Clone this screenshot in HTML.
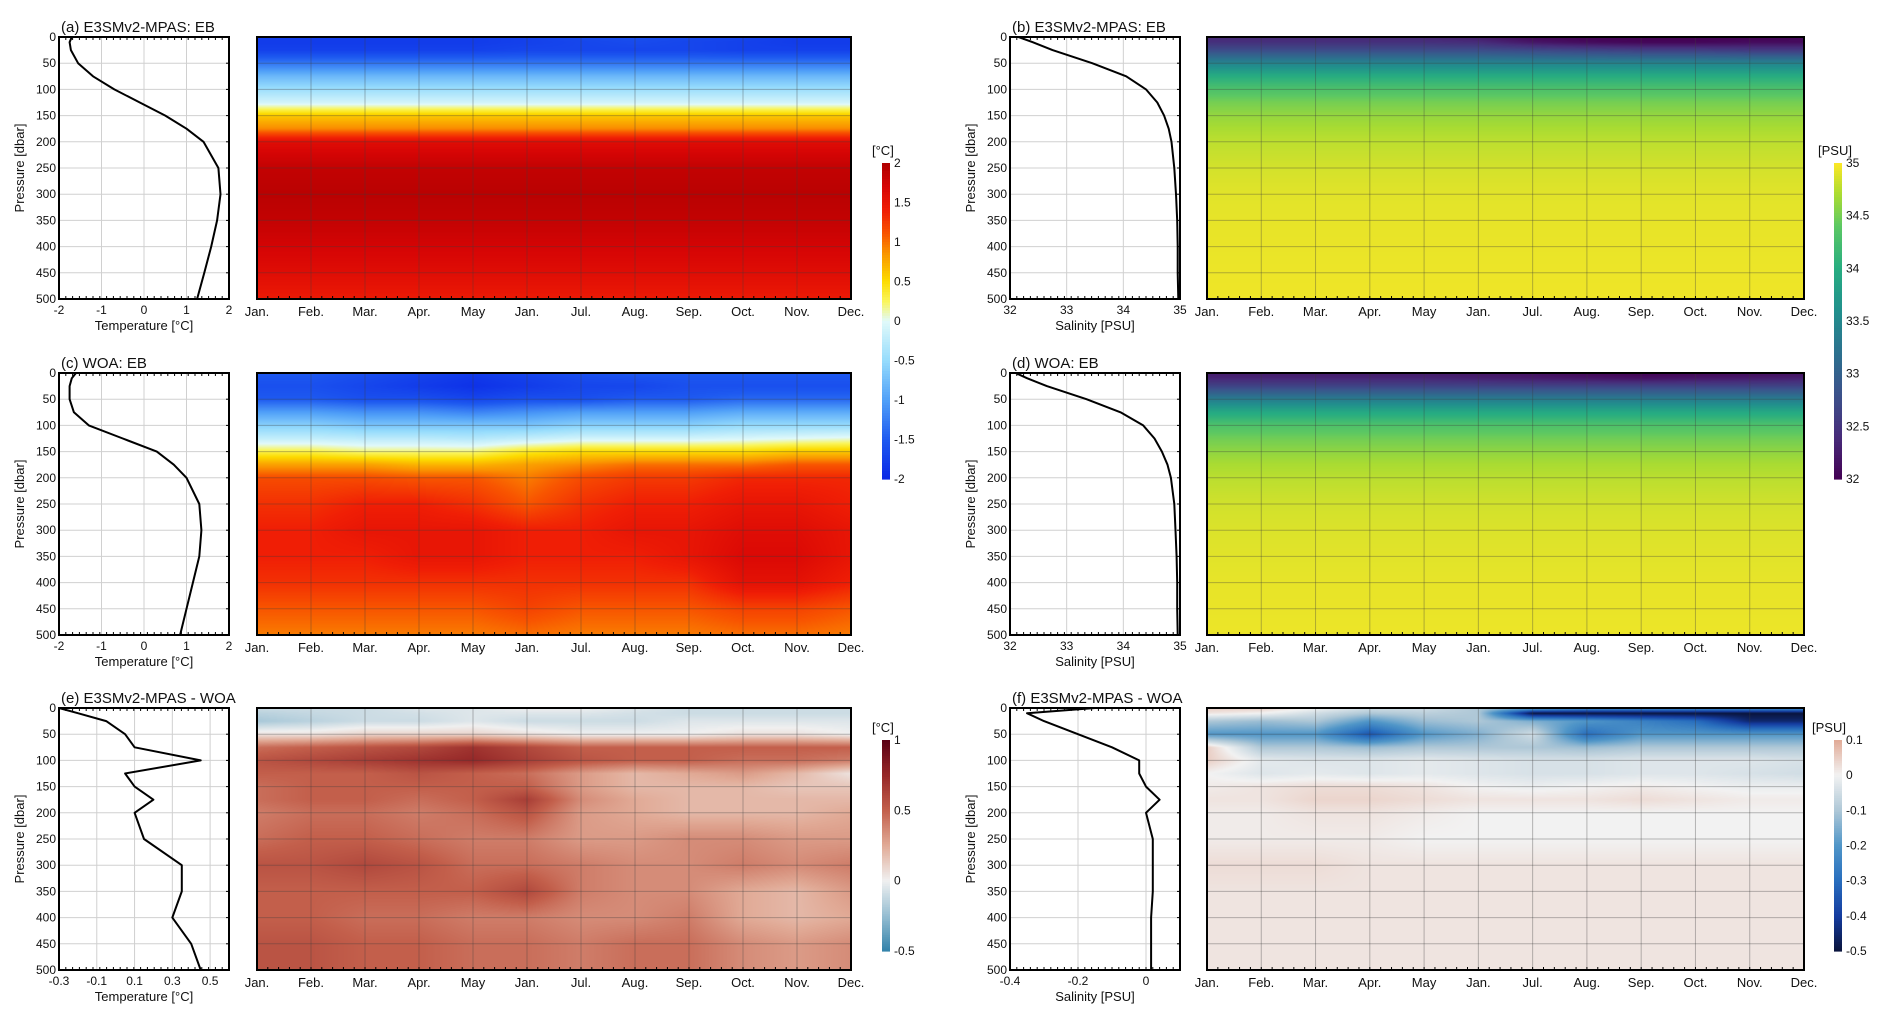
<!DOCTYPE html>
<html><head><meta charset="utf-8">
<style>
body{margin:0;background:#fff;width:1892px;height:1028px;overflow:hidden;position:relative;font-family:"Liberation Sans",Arial,sans-serif}
canvas{position:absolute}
svg{position:absolute;left:0;top:0}
text{font-family:"Liberation Sans",Arial,sans-serif;fill:#111}
</style></head>
<body>
<div id="hm"></div>
<svg id="sv" width="1892" height="1028"></svg>
<script>
// ---- data ----
const depths=[0,10,25,50,75,100,125,150,175,200,250,300,350,400,450,500];
const months=["Jan.","Feb.","Mar.","Apr.","May","Jan.","Jul.","Aug.","Sep.","Oct.","Nov.","Dec."];
const profA=[-1.7,-1.75,-1.72,-1.55,-1.2,-0.7,-0.1,0.5,1.0,1.4,1.75,1.8,1.72,1.58,1.42,1.25];
const profB=[32.15,32.4,32.75,33.45,34.05,34.4,34.6,34.72,34.8,34.85,34.9,34.93,34.95,34.96,34.96,34.97];
const profC=[-1.6,-1.7,-1.75,-1.75,-1.65,-1.3,-0.5,0.3,0.7,1.0,1.3,1.35,1.3,1.15,1.0,0.85];
const profD=[32.1,32.3,32.65,33.35,33.95,34.35,34.55,34.68,34.78,34.84,34.9,34.92,34.94,34.95,34.95,34.96];
const profE=[-0.3,-0.2,-0.05,0.05,0.1,0.45,0.05,0.1,0.2,0.1,0.15,0.35,0.35,0.3,0.4,0.45];
const profF=[-0.15,-0.35,-0.3,-0.2,-0.1,-0.02,-0.02,0.0,0.04,0.0,0.02,0.02,0.02,0.015,0.015,0.015];
const heatA=[
[-1.8,-1.8,-1.8,-1.8,-1.8,-1.75,-1.65,-1.6,-1.65,-1.7,-1.8,-1.8],
[-1.8,-1.8,-1.8,-1.8,-1.8,-1.75,-1.7,-1.65,-1.7,-1.75,-1.8,-1.8],
[-1.75,-1.75,-1.75,-1.75,-1.75,-1.7,-1.7,-1.7,-1.7,-1.75,-1.75,-1.75],
[-1.3,-1.3,-1.3,-1.3,-1.3,-1.3,-1.3,-1.3,-1.3,-1.3,-1.3,-1.3],
[-0.8,-0.8,-0.8,-0.8,-0.8,-0.8,-0.8,-0.8,-0.8,-0.8,-0.8,-0.8],
[-0.45,-0.45,-0.45,-0.45,-0.45,-0.45,-0.45,-0.45,-0.45,-0.45,-0.45,-0.45],
[-0.1,-0.1,-0.1,-0.1,-0.1,-0.1,-0.1,-0.1,-0.1,-0.1,-0.1,-0.1],
[0.6,0.6,0.6,0.6,0.6,0.6,0.6,0.6,0.6,0.6,0.6,0.6],
[0.9,0.9,0.9,0.9,0.9,0.9,0.9,0.9,0.9,0.9,0.9,0.9],
[1.6,1.6,1.6,1.6,1.6,1.6,1.6,1.6,1.6,1.6,1.6,1.6],
[1.85,1.85,1.85,1.85,1.85,1.85,1.85,1.85,1.85,1.85,1.85,1.85],
[1.92,1.92,1.92,1.92,1.92,1.92,1.92,1.92,1.92,1.92,1.92,1.92],
[1.85,1.85,1.85,1.85,1.85,1.85,1.85,1.85,1.85,1.85,1.85,1.85],
[1.72,1.72,1.72,1.72,1.72,1.72,1.72,1.72,1.72,1.72,1.72,1.72],
[1.6,1.6,1.6,1.6,1.6,1.6,1.6,1.6,1.6,1.6,1.6,1.6],
[1.45,1.45,1.45,1.45,1.45,1.45,1.45,1.45,1.45,1.45,1.45,1.45]];
const heatB=[
[32.35,32.35,32.35,32.35,32.35,32.25,32.05,32.0,32.0,32.0,32.0,32.05],
[32.45,32.45,32.45,32.45,32.45,32.4,32.2,32.1,32.05,32.05,32.1,32.1],
[32.75,32.75,32.75,32.75,32.75,32.75,32.7,32.65,32.6,32.6,32.55,32.55],
[33.45,33.45,33.45,33.45,33.45,33.45,33.45,33.45,33.45,33.45,33.45,33.45],
[34.0,34.0,34.0,34.0,34.0,34.0,34.0,34.0,34.0,34.0,34.0,34.0],
[34.3,34.3,34.3,34.3,34.3,34.3,34.3,34.3,34.3,34.3,34.3,34.3],
[34.5,34.5,34.5,34.5,34.5,34.5,34.5,34.5,34.5,34.5,34.5,34.5],
[34.62,34.62,34.62,34.62,34.62,34.62,34.62,34.62,34.62,34.62,34.62,34.62],
[34.7,34.7,34.7,34.7,34.7,34.7,34.7,34.7,34.7,34.7,34.7,34.7],
[34.77,34.77,34.77,34.77,34.77,34.77,34.77,34.77,34.77,34.77,34.77,34.77],
[34.85,34.85,34.85,34.85,34.85,34.85,34.85,34.85,34.85,34.85,34.85,34.85],
[34.9,34.9,34.9,34.9,34.9,34.9,34.9,34.9,34.9,34.9,34.9,34.9],
[34.92,34.92,34.92,34.92,34.92,34.92,34.92,34.92,34.92,34.92,34.92,34.92],
[34.93,34.93,34.93,34.93,34.93,34.93,34.93,34.93,34.93,34.93,34.93,34.93],
[34.94,34.94,34.94,34.94,34.94,34.94,34.94,34.94,34.94,34.94,34.94,34.94],
[34.95,34.95,34.95,34.95,34.95,34.95,34.95,34.95,34.95,34.95,34.95,34.95]];
const heatC=[
[-1.5,-1.5,-1.6,-1.7,-1.8,-1.7,-1.6,-1.5,-1.5,-1.5,-1.5,-1.5],
[-1.55,-1.55,-1.65,-1.75,-1.85,-1.75,-1.65,-1.6,-1.55,-1.55,-1.55,-1.55],
[-1.6,-1.6,-1.7,-1.8,-1.9,-1.8,-1.7,-1.7,-1.6,-1.6,-1.6,-1.6],
[-1.5,-1.5,-1.6,-1.6,-1.7,-1.6,-1.6,-1.5,-1.5,-1.4,-1.4,-1.4],
[-1.0,-1.0,-1.1,-1.1,-1.2,-1.1,-1.0,-1.0,-1.0,-0.9,-0.9,-0.9],
[-0.6,-0.6,-0.7,-0.7,-0.7,-0.7,-0.6,-0.6,-0.6,-0.5,-0.5,-0.5],
[-0.2,-0.2,-0.25,-0.25,-0.3,-0.2,-0.1,-0.1,-0.1,-0.05,0.0,0.05],
[0.3,0.3,0.2,0.2,0.2,0.4,0.5,0.5,0.5,0.5,0.6,0.6],
[0.8,0.8,0.8,0.7,0.7,0.8,0.9,1.0,1.0,1.0,1.1,1.1],
[1.15,1.15,1.15,1.1,1.1,0.95,1.15,1.25,1.25,1.35,1.35,1.35],
[1.3,1.3,1.4,1.4,1.3,1.1,1.3,1.4,1.4,1.5,1.5,1.4],
[1.4,1.4,1.5,1.5,1.5,1.4,1.4,1.5,1.5,1.6,1.6,1.5],
[1.4,1.4,1.4,1.5,1.5,1.4,1.4,1.4,1.5,1.65,1.65,1.5],
[1.3,1.3,1.3,1.3,1.3,1.3,1.3,1.3,1.3,1.55,1.55,1.4],
[1.1,1.1,1.1,1.1,1.1,1.2,1.1,1.1,1.1,1.2,1.2,1.1],
[0.95,0.95,0.95,0.95,0.95,1.0,0.95,0.95,0.95,1.0,1.0,0.95]];
const heatD=[
[32.25,32.25,32.25,32.25,32.25,32.2,32.15,32.05,32.0,32.05,32.1,32.15],
[32.35,32.35,32.35,32.35,32.35,32.3,32.25,32.2,32.15,32.2,32.25,32.3],
[32.65,32.65,32.65,32.65,32.65,32.65,32.65,32.65,32.65,32.65,32.65,32.65],
[33.35,33.35,33.35,33.35,33.35,33.35,33.35,33.35,33.35,33.35,33.35,33.35],
[33.95,33.95,33.95,33.95,33.95,33.95,33.95,33.95,33.95,33.95,33.95,33.95],
[34.3,34.3,34.3,34.3,34.3,34.3,34.3,34.3,34.3,34.3,34.3,34.3],
[34.48,34.48,34.48,34.48,34.48,34.48,34.48,34.48,34.48,34.48,34.48,34.48],
[34.6,34.6,34.6,34.6,34.6,34.6,34.6,34.6,34.6,34.6,34.6,34.6],
[34.7,34.7,34.7,34.7,34.7,34.7,34.7,34.7,34.7,34.7,34.7,34.7],
[34.76,34.76,34.76,34.76,34.76,34.76,34.76,34.76,34.76,34.76,34.76,34.76],
[34.84,34.84,34.84,34.84,34.84,34.84,34.84,34.84,34.84,34.84,34.84,34.84],
[34.88,34.88,34.88,34.88,34.88,34.88,34.88,34.88,34.88,34.88,34.88,34.88],
[34.9,34.9,34.9,34.9,34.9,34.9,34.9,34.9,34.9,34.9,34.9,34.9],
[34.92,34.92,34.92,34.92,34.92,34.92,34.92,34.92,34.92,34.92,34.92,34.92],
[34.93,34.93,34.93,34.93,34.93,34.93,34.93,34.93,34.93,34.93,34.93,34.93],
[34.94,34.94,34.94,34.94,34.94,34.94,34.94,34.94,34.94,34.94,34.94,34.94]];
const heatE=[
[-0.1,-0.1,-0.1,-0.05,-0.05,0,0,-0.05,-0.1,-0.1,-0.1,-0.1],
[-0.15,-0.12,-0.1,-0.08,-0.05,-0.05,-0.05,-0.08,-0.1,-0.1,-0.1,-0.1],
[-0.2,-0.15,-0.1,-0.1,-0.05,-0.1,-0.1,-0.1,-0.05,-0.05,-0.05,-0.05],
[0.05,0.05,0.1,0.1,0.1,0.05,0.0,0.0,0.0,0.05,0.05,0.0],
[0.45,0.5,0.55,0.6,0.7,0.6,0.5,0.5,0.5,0.5,0.5,0.5],
[0.55,0.6,0.65,0.7,0.75,0.65,0.55,0.5,0.5,0.45,0.45,0.4],
[0.5,0.5,0.5,0.55,0.5,0.45,0.3,0.2,0.25,0.3,0.2,0.05],
[0.45,0.5,0.5,0.5,0.5,0.5,0.3,0.2,0.2,0.2,0.15,0.15],
[0.45,0.5,0.5,0.45,0.5,0.65,0.35,0.25,0.2,0.2,0.2,0.2],
[0.4,0.45,0.45,0.4,0.45,0.55,0.3,0.25,0.2,0.2,0.2,0.25],
[0.45,0.5,0.5,0.45,0.4,0.4,0.3,0.3,0.35,0.35,0.3,0.3],
[0.55,0.55,0.6,0.55,0.45,0.45,0.4,0.35,0.35,0.4,0.35,0.4],
[0.5,0.5,0.5,0.5,0.5,0.6,0.4,0.35,0.35,0.25,0.2,0.3],
[0.5,0.5,0.45,0.45,0.4,0.4,0.35,0.35,0.4,0.25,0.2,0.25],
[0.55,0.55,0.5,0.5,0.45,0.45,0.4,0.45,0.45,0.35,0.3,0.35],
[0.55,0.55,0.5,0.5,0.45,0.45,0.4,0.45,0.45,0.35,0.3,0.35]];
const heatF=[
[0.05,0.05,0.0,-0.05,-0.05,-0.1,-0.15,-0.2,-0.2,-0.2,-0.2,-0.2],
[0.02,0.0,-0.05,-0.1,-0.08,-0.1,-0.5,-0.5,-0.5,-0.5,-0.5,-0.5],
[-0.1,-0.12,-0.1,-0.2,-0.12,-0.1,-0.15,-0.2,-0.25,-0.3,-0.45,-0.45],
[-0.2,-0.2,-0.2,-0.35,-0.2,-0.15,-0.05,-0.3,-0.2,-0.2,-0.2,-0.2],
[0.05,-0.1,-0.1,-0.12,-0.1,-0.1,-0.1,-0.12,-0.1,-0.1,-0.1,-0.1],
[0.05,-0.02,-0.03,-0.03,-0.02,-0.03,-0.04,-0.04,-0.03,-0.03,-0.03,-0.04],
[0.0,-0.03,-0.02,-0.03,-0.02,-0.03,-0.04,-0.04,-0.03,-0.03,-0.04,-0.05],
[0.01,0.02,0.03,0.03,0.02,0.0,-0.01,0.0,0.01,0.0,-0.01,-0.01],
[0.02,0.02,0.04,0.04,0.03,0.02,0.02,0.02,0.03,0.02,0.01,0.01],
[0.01,0.01,0.02,0.02,0.01,0.0,0.0,0.0,0.0,0.0,0.0,0.0],
[0.01,0.01,0.01,0.01,0.0,0.0,0.0,0.0,0.0,0.0,0.0,0.0],
[0.03,0.03,0.03,0.02,0.02,0.02,0.02,0.02,0.02,0.02,0.02,0.02],
[0.02,0.02,0.02,0.02,0.02,0.02,0.02,0.02,0.02,0.02,0.02,0.02],
[0.02,0.02,0.02,0.02,0.02,0.02,0.02,0.02,0.02,0.02,0.02,0.02],
[0.02,0.02,0.02,0.02,0.02,0.02,0.02,0.02,0.02,0.02,0.02,0.02],
[0.02,0.02,0.02,0.02,0.02,0.02,0.02,0.02,0.02,0.02,0.02,0.02]];
const depthTicks=[0,50,100,150,200,250,300,350,400,450,500];
const tempTicks=[-2,-1,0,1,2], salTicks=[32,33,34,35], dTTicks=[-0.3,-0.1,0.1,0.3,0.5], dSTicks=[-0.4,-0.2,0];
const cbTempTicks=[2,1.5,1,0.5,0,-0.5,-1,-1.5,-2], cbSalTicks=[35,34.5,34,33.5,33,32.5,32];
const cbDTTicks=[1,0.5,0,-0.5], cbDSTicks=[0.1,0,-0.1,-0.2,-0.3,-0.4,-0.5];

// ---- colormaps ----
const CM_T=[[-2,[10,40,230]],[-1.5,[30,90,240]],[-1,[80,160,248]],[-0.5,[150,220,252]],[0,[225,250,250]],[0.25,[250,245,90]],[0.5,[252,220,0]],[0.85,[250,150,0]],[1.1,[248,85,0]],[1.4,[240,30,5]],[1.7,[215,5,5]],[2,[175,0,0]]];
const CM_S=[[32,[68,1,84]],[32.4,[71,44,122]],[32.8,[59,81,139]],[33.2,[44,113,142]],[33.6,[33,144,141]],[34,[39,173,129]],[34.4,[92,200,99]],[34.7,[170,220,50]],[35,[253,231,37]]];
const CM_DT=[[-0.5,[50,130,170]],[-0.25,[150,190,210]],[0,[240,240,240]],[0.25,[225,170,150]],[0.5,[195,95,75]],[0.75,[150,40,40]],[1,[90,0,20]]];
const CM_DS=[[-0.5,[10,20,60]],[-0.4,[20,60,160]],[-0.3,[40,110,190]],[-0.2,[80,150,200]],[-0.1,[175,200,215]],[0,[242,242,242]],[0.1,[225,170,150]]];
function cmap(cm,v){if(v<=cm[0][0])return cm[0][1];for(let i=1;i<cm.length;i++){if(v<=cm[i][0]){const t=(v-cm[i-1][0])/(cm[i][0]-cm[i-1][0]);return cm[i-1][1].map((c,k)=>c+(cm[i][1][k]-c)*t);}}return cm[cm.length-1][1];}

// ---- layout ----
const cols=[{px:59,pw:170,hx:257,hw:594,cb:882},{px:1010,pw:170,hx:1207,hw:597,cb:1834}];
const rows=[37,373,708], PH=262;
const NS="http://www.w3.org/2000/svg", sv=document.getElementById('sv');
function el(tag,attrs,parent,txt){const e=document.createElementNS(NS,tag);for(const k in attrs)e.setAttribute(k,attrs[k]);if(txt!==undefined)e.textContent=txt;(parent||sv).appendChild(e);return e;}
const yS=(y0,d)=>y0+d/500*PH;

function heat(c,y0,grid,cm,name){
  const cv=document.createElement('canvas');cv.width=c.hw;cv.height=PH;
  cv.style.left=c.hx+'px';cv.style.top=y0+'px';
  
  
  document.getElementById('hm').appendChild(cv);
  const ctx=cv.getContext('2d'),img=ctx.createImageData(c.hw,PH);
  for(let py=0;py<PH;py++){const d=(py+0.5)/PH*500;let j=0;while(j<depths.length-2&&depths[j+1]<d)j++;
    const ty=Math.min(1,Math.max(0,(d-depths[j])/(depths[j+1]-depths[j])));
    for(let px=0;px<c.hw;px++){const m=px/(c.hw-1)*11;const i=Math.min(10,Math.floor(m)),tx=m-i;
      const v=(grid[j][i]*(1-tx)+grid[j][i+1]*tx)*(1-ty)+(grid[j+1][i]*(1-tx)+grid[j+1][i+1]*tx)*ty;
      const col=cmap(cm,v),o=(py*c.hw+px)*4;img.data[o]=col[0];img.data[o+1]=col[1];img.data[o+2]=col[2];img.data[o+3]=255;}}
  ctx.putImageData(img,0,0);
  const g=el('g',{});
  depthTicks.forEach(d=>{el('line',{x1:c.hx,x2:c.hx+c.hw,y1:yS(y0,d),y2:yS(y0,d),stroke:'rgba(60,60,60,0.35)','stroke-width':1},g);});
  months.forEach((m,i)=>{const x=c.hx+i/11*c.hw;
    el('line',{x1:x,x2:x,y1:y0,y2:y0+PH,stroke:'rgba(60,60,60,0.35)','stroke-width':1},g);
    const t=el('text',{x:x,y:y0+PH+17,'font-size':13,'text-anchor':'middle'},g,m);
    
    
  });
  for(let k=0;k<=55;k++){const x=c.hx+k/55*c.hw;el('line',{x1:x,x2:x,y1:y0+PH,y2:y0+PH-3,stroke:'#000'},g);}
  el('rect',{x:c.hx,y:y0,width:c.hw,height:PH,fill:'none',stroke:'#000','stroke-width':2},g);
}
function prof(c,y0,data,xmin,xmax,ticks,xlabel,title,name){
  const g=el('g',{});
  const xS=v=>c.px+(v-xmin)/(xmax-xmin)*c.pw;
  depthTicks.forEach(d=>{el('line',{x1:c.px,x2:c.px+c.pw,y1:yS(y0,d),y2:yS(y0,d),stroke:'#d0d0d0'},g);
    el('text',{x:c.px-3,y:yS(y0,d)+4,'font-size':12,'text-anchor':'end'},g,d);
    el('line',{x1:c.px+c.pw,x2:c.px+c.pw-3,y1:yS(y0,d),y2:yS(y0,d),stroke:'#000'},g);});
  ticks.forEach(v=>{el('line',{x1:xS(v),x2:xS(v),y1:y0,y2:y0+PH,stroke:'#d0d0d0'},g);
    el('text',{x:xS(v),y:y0+PH+15,'font-size':12,'text-anchor':'middle'},g,v);});
  for(let k=0;k<=25;k++){const x=c.px+k/25*c.pw;el('line',{x1:x,x2:x,y1:y0,y2:y0+3,stroke:'#000'},g);el('line',{x1:x,x2:x,y1:y0+PH,y2:y0+PH-3,stroke:'#000'},g);}
  const pts=data.map((v,i)=>xS(v).toFixed(1)+','+yS(y0,depths[i]).toFixed(1)).join(' ');
  const pl=el('polyline',{points:pts,fill:'none',stroke:'#000','stroke-width':2,'stroke-linejoin':'round'},g);
  
  
  el('rect',{x:c.px,y:y0,width:c.pw,height:PH,fill:'none',stroke:'#000','stroke-width':2},g);
  el('text',{x:c.px+c.pw/2,y:y0+PH+31,'font-size':13,'text-anchor':'middle'},g,xlabel);
  const ax=c.px===59?24:975;
  el('text',{x:ax,y:y0+PH/2,'font-size':13,'text-anchor':'middle',transform:`rotate(-90 ${ax} ${y0+PH/2})`},g,'Pressure [dbar]');
  el('text',{x:c.px+2,y:y0-5,'font-size':15,'text-anchor':'start'},g,title);
}
function cbar(x,y0,y1,cm,vmin,vmax,ticks,unit,ux,name){
  const g=el('g',{});
  const N=120;for(let k=0;k<N;k++){const v=vmax-(k+0.5)/N*(vmax-vmin);const c=cmap(cm,v);
    el('rect',{x:x,y:y0+k*(y1-y0)/N,width:8,height:(y1-y0)/N+0.6,fill:`rgb(${c.map(Math.round).join(',')})`},g);}
  ticks.forEach(v=>{const y=y0+(vmax-v)/(vmax-vmin)*(y1-y0);el('text',{x:x+12,y:y+4,'font-size':12},g,v);});
  el('text',{x:ux,y:y0-8,'font-size':13},g,unit);
}
const L=cols[0],R=cols[1];
prof(L,rows[0],profA,-2,2,tempTicks,'Temperature [°C]','(a) E3SMv2-MPAS: EB','profile-a');
prof(L,rows[1],profC,-2,2,tempTicks,'Temperature [°C]','(c) WOA: EB','profile-c');
prof(L,rows[2],profE,-0.3,0.6,dTTicks,'Temperature [°C]','(e) E3SMv2-MPAS - WOA','profile-e');
prof(R,rows[0],profB,32,35,salTicks,'Salinity [PSU]','(b) E3SMv2-MPAS: EB','profile-b');
prof(R,rows[1],profD,32,35,salTicks,'Salinity [PSU]','(d) WOA: EB','profile-d');
prof(R,rows[2],profF,-0.4,0.1,dSTicks,'Salinity [PSU]','(f) E3SMv2-MPAS - WOA','profile-f');
heat(L,rows[0],heatA,CM_T,'heatmap-a');
heat(L,rows[1],heatC,CM_T,'heatmap-c');
heat(L,rows[2],heatE,CM_DT,'heatmap-e');
heat(R,rows[0],heatB,CM_S,'heatmap-b');
heat(R,rows[1],heatD,CM_S,'heatmap-d');
heat(R,rows[2],heatF,CM_DS,'heatmap-f');
cbar(882,163,479,CM_T,-2,2,cbTempTicks,'[°C]',872,'colorbar-temperature');
cbar(1834,163,479,CM_S,32,35,cbSalTicks,'[PSU]',1818,'colorbar-salinity');
cbar(882,740,951,CM_DT,-0.5,1,cbDTTicks,'[°C]',872,'colorbar-temp-diff');
cbar(1834,740,951,CM_DS,-0.5,0.1,cbDSTicks,'[PSU]',1812,'colorbar-sal-diff');
</script>
</body></html>
